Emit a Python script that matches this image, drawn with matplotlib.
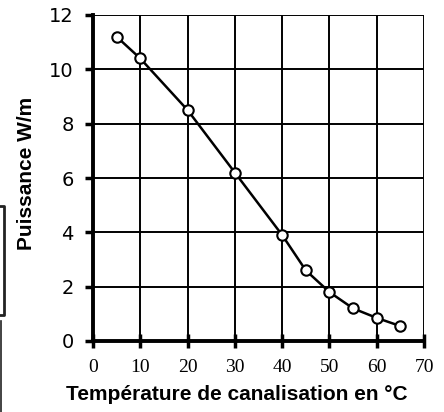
import matplotlib.pyplot as plt
from matplotlib.lines import Line2D

# temperature (deg C) and power (W/m)
temperature = [5, 10, 20, 30, 40, 45, 50, 55, 60, 65]
puissance = [11.2, 10.4, 8.5, 6.2, 3.9, 2.6, 1.8, 1.2, 0.85, 0.55]
xticks = [0, 10, 20, 30, 40, 50, 60, 70]
yticks = [0, 2, 4, 6, 8, 10, 12]

W, H = 444, 412
fig = plt.figure(figsize=(W / 100, H / 100), dpi=100)
ax = fig.add_axes([93 / W, 1 - 341 / H, (424 - 93) / W, (341 - 15) / H])

ax.plot(temperature, puissance, color='black', lw=1.8, marker='o',
        markersize=7.5, markerfacecolor='white', markeredgecolor='black',
        markeredgewidth=1.5, zorder=5, clip_on=False)

ax.set_xlim(0, 70)
ax.set_ylim(0, 12)
ax.set_xticks(xticks)
ax.set_yticks(yticks)
ax.grid(True, color='black', lw=1.4)

for s in ['top', 'right']:
    ax.spines[s].set_visible(False)
for s in ['left', 'bottom']:
    ax.spines[s].set_linewidth(2.8)

ax.tick_params(axis='y', direction='out', length=6, width=2.5, pad=8,
               labelsize=14)
ax.tick_params(axis='x', direction='inout', length=10, width=2.5, pad=8,
               labelsize=14)
for lab in ax.get_xticklabels():
    lab.set_fontfamily('Liberation Serif')
for lab in ax.get_yticklabels():
    lab.set_fontfamily('DejaVu Sans')

fig.text(237 / W, 1 - 394 / H, 'Température de canalisation en °C',
         fontfamily='Liberation Sans', fontweight='bold', fontsize=15,
         ha='center', va='center')
fig.text(27 / W, 1 - 173 / H, 'Puissance W/m', rotation=90,
         fontfamily='Liberation Sans', fontweight='bold', fontsize=15,
         ha='center', va='center')

# bits of a neighbouring figure cut off at the left edge
def px_line(xs, ys, lw=2):
    fig.add_artist(Line2D([x / W for x in xs], [1 - y / H for y in ys],
                          color='#222222', lw=lw, transform=fig.transFigure))

px_line([0, 4, 4, 0], [206, 206, 315, 315])
px_line([0.7, 0.7], [321, 412], lw=1.2)

fig.savefig('out.png', dpi=100)
